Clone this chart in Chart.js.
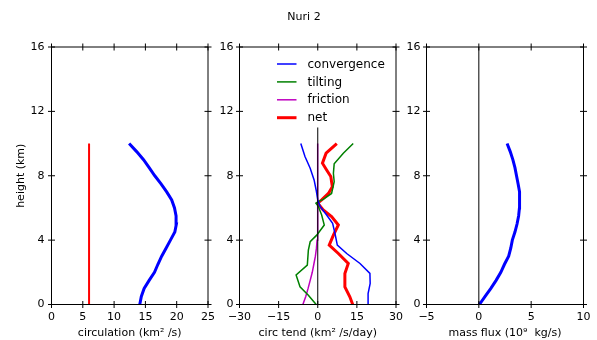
<!DOCTYPE html>
<html>
<head>
<meta charset="utf-8">
<script src="https://cdn.jsdelivr.net/npm/chart.js@4.4.0/dist/chart.umd.min.js"></script>
<style>
  body { margin: 0; background: #fff; }
  #wrap { position: relative; width: 597px; height: 340px; overflow: hidden; }
  canvas { position: absolute; top: 0; }
  #title { position: absolute; left: 0; width: 608px; top: 10px; text-align: center;
           font: 11px "DejaVu Sans", sans-serif; color: #000; }
</style>
</head>
<body>
<div id="wrap">
  <canvas id="c1" width="224" height="340" style="left:0px"></canvas>
  <canvas id="c2" width="207" height="340" style="left:205px"></canvas>
  <canvas id="c3" width="205" height="340" style="left:395px"></canvas>
  <div id="title">Nuri 2</div>
</div>
<script>
// panel 1 - circulation
let circHeights = [0, 0.5, 1, 1.5, 2, 2.5, 3, 3.5, 4, 4.5, 5, 5.5, 6, 6.5, 7, 7.5, 8, 8.5, 9, 9.5, 10];
let circValues  = [14.1, 14.35, 14.8, 15.6, 16.45, 17.0, 17.6, 18.3, 19.0, 19.7, 19.95, 19.9, 19.65, 19.2, 18.4, 17.5, 16.5, 15.6, 14.7, 13.6, 12.4];
let refHeights = [0, 10];
let refValues  = [6, 6];

// panel 2 - circulation tendency
let convHeights = [0, 0.68, 1.31, 1.93, 2.55, 3.17, 3.69, 4.42, 5.04, 5.56, 6.1, 6.5, 7.1, 7.74, 8.47, 9.2, 10];
let convValues  = [19.3, 19.3, 20.1, 20.0, 16.2, 11.1, 7.5, 6.6, 5.7, 3.4, 0.9, 0, -0.6, -1.4, -2.9, -4.9, -6.5];
let tiltHeights = [0, 0.58, 1.1, 1.83, 2.45, 3.38, 3.9, 4.31, 4.94, 5.56, 6.1, 6.29, 6.39, 6.53, 6.9, 7.63, 8.15, 8.74, 9.4, 10];
let tiltValues  = [-0.6, -3.6, -6.8, -8.3, -4.0, -3.6, -2.9, -0.4, 2.5, 1.5, 0.2, -0.7, 0.2, 2.1, 5.3, 6.3, 6.0, 6.3, 9.8, 13.6];
let fricHeights = [0, 0.5, 1, 1.5, 2, 2.5, 3, 3.5, 4, 5, 6, 8, 10];
let fricValues  = [-5.7, -4.6, -3.7, -2.9, -2.1, -1.5, -0.9, -0.5, -0.25, -0.1, 0, 0, 0];
let netHeights = [0, 0.48, 1.1, 1.93, 2.55, 3.17, 3.69, 4.31, 4.94, 5.46, 5.87, 6.3, 6.5, 6.9, 7.32, 7.95, 8.36, 8.78, 9.4, 10];
let netValues  = [13.4, 12.3, 10.4, 10.4, 11.7, 7.9, 4.4, 6.0, 7.9, 5.3, 2.1, 0, 1.5, 4.1, 5.6, 5.0, 3.4, 1.8, 3.2, 7.3];
let zero2Heights = [0, 11];

// panel 3 - mass flux
let fluxHeights = [0, 0.5, 1, 1.5, 2, 2.5, 3, 3.5, 4, 4.5, 5, 5.5, 6, 6.5, 7, 7.5, 8, 8.5, 9, 9.5, 10];
let fluxValues  = [0.05, 0.6, 1.15, 1.65, 2.1, 2.45, 2.85, 3.05, 3.2, 3.45, 3.65, 3.8, 3.88, 3.9, 3.88, 3.75, 3.6, 3.45, 3.25, 3.0, 2.7];
let zero3Heights = [0, 16];

let heightTicks = [0, 4, 8, 12, 16];

const FONT = { family: 'DejaVu Sans', size: 11 };
Chart.defaults.color = '#000';

function pts(xs, ys) {
    return ys.map(function (y, i) { return { x: xs[i], y: y }; });
}

function minusFmt(v) {
    return String(v).replace('-', '\u2212');
}

// frame, ticks on all four sides, optional legend
let framePlugin = {
    id: 'frame',
    afterDraw: function (chart) {
        let ctx = chart.ctx, a = chart.chartArea;
        let xs = chart.scales.x, ys = chart.scales.y;
        ctx.save();
        ctx.strokeStyle = '#000';
        ctx.lineWidth = 1;
        ctx.beginPath();
        ctx.moveTo(a.left, a.top); ctx.lineTo(a.right, a.top);
        ctx.lineTo(a.right, a.bottom); ctx.lineTo(a.left, a.bottom);
        ctx.closePath();
        ctx.stroke();
        ctx.beginPath();
        xs.ticks.forEach(function (t) {
            let px = xs.getPixelForValue(t.value);
            ctx.moveTo(px, a.bottom - 3.5); ctx.lineTo(px, a.bottom + 3.5);
            ctx.moveTo(px, a.top - 3.5); ctx.lineTo(px, a.top + 3.5);
        });
        ys.ticks.forEach(function (t) {
            let py = ys.getPixelForValue(t.value);
            ctx.moveTo(a.left - 3.5, py); ctx.lineTo(a.left + 3.5, py);
            ctx.moveTo(a.right - 3.5, py); ctx.lineTo(a.right + 3.5, py);
        });
        ctx.stroke();

        if (chart.options.plugins.frame && chart.options.plugins.frame.legend) {
            let lx = a.left + 37.5, ly = 64, row = 17.9;
            ctx.font = '12px "DejaVu Sans"';
            ctx.textBaseline = 'middle';
            ctx.fillStyle = '#000';
            chart.data.datasets.forEach(function (ds) {
                if (!ds.label) return;
                ctx.strokeStyle = ds.borderColor;
                ctx.lineWidth = ds.borderWidth;
                ctx.beginPath();
                ctx.moveTo(lx, ly); ctx.lineTo(lx + 19.5, ly);
                ctx.stroke();
                ctx.fillText(ds.label, lx + 30.5, ly + 0.5);
                ly += row;
            });
        }
        ctx.restore();
    }
};

function makePanel(id, datasets, xOpts, pad, yTitle, legend) {
    let ctx = document.getElementById(id).getContext('2d');
    return new Chart(ctx, {
        type: 'scatter',
        data: { datasets: datasets },
        options: {
            responsive: false,
            animation: false,
            showLine: true,
            layout: { padding: pad },
            elements: { point: { radius: 0 }, line: { tension: 0 } },
            plugins: {
                legend: { display: false },
                tooltip: { enabled: false },
                frame: { legend: legend }
            },
            scales: {
                x: {
                    type: 'linear',
                    min: xOpts.min, max: xOpts.max,
                    grid: { display: false, drawTicks: false },
                    border: { display: false },
                    ticks: { stepSize: xOpts.step, padding: 6, font: FONT, maxRotation: 0,
                             callback: minusFmt },
                    title: { display: true, text: xOpts.title, font: FONT, padding: 0 },
                    afterFit: function (s) { s.height = 35; }
                },
                y: {
                    type: 'linear',
                    min: 0, max: 16,
                    grid: { display: false, drawTicks: false },
                    border: { display: false },
                    afterBuildTicks: function (s) {
                        s.ticks = heightTicks.map(function (v) { return { value: v }; });
                    },
                    ticks: { padding: yTitle ? 7 : 6, font: FONT },
                    title: { display: !!yTitle, text: yTitle || '', font: FONT,
                             padding: { top: 7.7, bottom: 0 } },
                    afterFit: function (s) { s.width = yTitle ? 45 : 30; }
                }
            }
        },
        plugins: [framePlugin]
    });
}

window.onload = function () {
    makePanel('c1', [
        { data: pts(refValues, refHeights), borderColor: '#ff0000', borderWidth: 2 },
        { data: pts(circValues, circHeights), borderColor: '#0000ff', borderWidth: 3 }
    ], { min: 0, max: 25, step: 5, title: 'circulation (km\u00b2 /s)' },
       { left: 6.5, right: 16, top: 47, bottom: 0.5 }, 'height (km)', false);

    makePanel('c2', [
        { data: pts([0, 0], zero2Heights), borderColor: '#000000', borderWidth: 1 },
        { label: 'convergence', data: pts(convValues, convHeights), borderColor: '#0000ff', borderWidth: 1.5 },
        { label: 'tilting', data: pts(tiltValues, tiltHeights), borderColor: '#008000', borderWidth: 1.5 },
        { label: 'friction', data: pts(fricValues, fricHeights), borderColor: '#bf00bf', borderWidth: 1.5 },
        { label: 'net', data: pts(netValues, netHeights), borderColor: '#ff0000', borderWidth: 3 }
    ], { min: -30, max: 30, step: 15, title: 'circ tend (km\u00b2 /s/day)' },
       { left: 4.5, right: 16, top: 47, bottom: 0.5 }, null, true);

    makePanel('c3', [
        { data: pts([0, 0], zero3Heights), borderColor: '#000000', borderWidth: 1 },
        { data: pts(fluxValues, fluxHeights), borderColor: '#0000ff', borderWidth: 3 }
    ], { min: -5, max: 10, step: 5, title: 'mass flux (10\u2079  kg/s)' },
       { left: 1.5, right: 16.5, top: 47, bottom: 0.5 }, null, false);
};
</script>
</body>
</html>
